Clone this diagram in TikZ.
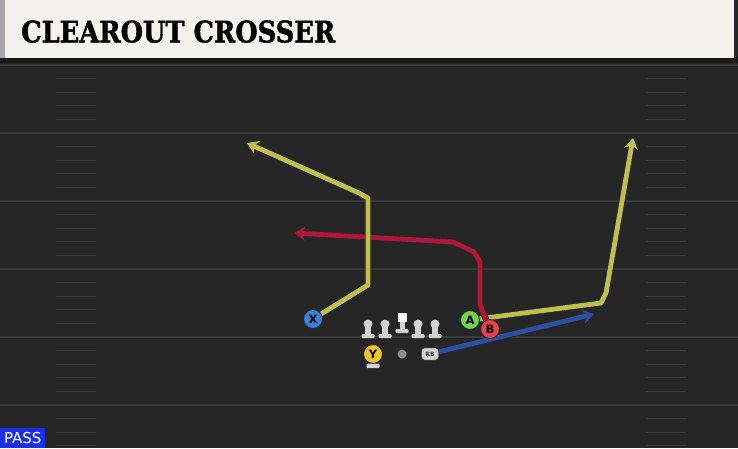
\documentclass[tikz,border=0pt]{standalone}
\usepackage{xcolor}
\usepackage{fontspec}
\setmainfont{DejaVu Sans}
\newfontfamily\titlefont[BoldFeatures={FakeBold=1.5}]{DejaVu Serif}
\usepackage{tikz}
\usetikzlibrary{arrows.meta}

\definecolor{fieldbg}{HTML}{262626}
\definecolor{yardline}{HTML}{3A3A3A}
\definecolor{titlebg}{HTML}{F4F2EC}
\definecolor{routeyel}{HTML}{BFBF4F}
\definecolor{routered}{HTML}{B0163A}
\definecolor{routeblue}{HTML}{2E4F9F}
\definecolor{xblue}{HTML}{3A80D8}
\definecolor{agreen}{HTML}{72D44C}
\definecolor{bred}{HTML}{E8404A}
\definecolor{yyellow}{HTML}{F0C428}
\definecolor{lmgrey}{HTML}{D2D2D2}
\definecolor{passblue}{HTML}{1A30E6}

\tikzset{
    route/.style={draw=#1, line width=4.8pt, line join=round,
        preaction={draw=black!85, line width=6.4pt},
        -{Stealth[length=11pt, width=14pt, inset=3.5pt]}},
    player/.style={circle, fill=#1, draw=black!85, line width=0.9pt,
        inner sep=0pt, minimum size=19pt,
        font=\bfseries\fontsize{11.5}{11.5}\selectfont},
}

\begin{document}
\begin{tikzpicture}[x=1pt, y=-1pt]
    \useasboundingbox (0,0) rectangle (738,448);

    % field and title bar
    \fill[fieldbg] (0,0) rectangle (738,448);
    \fill[black!90] (0,56) rectangle (738,63);
    \fill[titlebg] (0,0) rectangle (734,58);
    \fill[black!35] (0,0) rectangle (5,58);
    \node[anchor=south west, inner sep=0pt] (title) at (21,43)
        {\resizebox{314pt}{22pt}{\titlefont\bfseries CLEAROUT CROSSER}};

    % yard lines and hashes
    \foreach \k in {0,...,5} {
        \draw[yardline, line width=1.5pt] (0,65+68*\k) -- (738,65+68*\k);
        \foreach \j in {1,...,4} {
            \pgfmathsetmacro{\hy}{65+68*\k+13.6*\j}
            \draw[yardline, line width=1.2pt] (56,\hy) -- (96,\hy);
            \draw[yardline, line width=1.2pt] (646,\hy) -- (686,\hy);
        }
    }

    \node[fill=passblue, text=white, anchor=south west, inner sep=0pt,
        minimum width=45pt, minimum height=20pt,
        font=\fontsize{15}{15}\selectfont] (pass) at (0,448) {PASS};

    % players
    \coordinate (xend) at (247,143);
    \coordinate (aend) at (633,138);
    \coordinate (bend) at (294,233);
    \coordinate (rbend) at (594,314);

    \node[player=xblue] (X) at (313,319) {X};
    \node[player=agreen] (A) at (470,320) {A};
    \node[player=bred] (B) at (490,329) {B};

    \fill[lmgrey] (371,358) rectangle (375,366);
    \fill[lmgrey, rounded corners=1pt] (366.5,363.5) rectangle (379.5,368);
    \node[player=yyellow] (Y) at (373,354) {Y};
    \fill[black!45] (402,354) circle (4.5);
    \node[rectangle, rounded corners=3pt, fill=lmgrey, draw=black!80,
        minimum width=17pt, minimum height=12pt, inner sep=0pt,
        font=\bfseries\fontsize{6}{6}\selectfont, text=black!75] (RB) at (430,354) {RB};

    % routes
    \draw[route=routeyel] (A.center) -- (601,303) -- (606,293) -- (aend);
    \draw[route=routered] (B.center) -- (480,305) -- (480,262) -- (474,252) -- (453,242) -- (bend);
    \draw[route=routeyel] (X.center) -- (368,285) -- (368,198) -- (359,193) -- (xend);
    \draw[route=routeblue] (RB) -- (rbend);

    % redraw receivers over their routes
    \node[player=xblue] at (X) {X};
    \node[player=agreen] at (A) {A};
    \node[player=bred] at (B) {B};

    % offensive line
    \foreach \lx in {368,385,418,435} {
        \fill[lmgrey] (\lx,324) circle (4.5);
        \fill[lmgrey] (\lx-2.8,324) rectangle (\lx+2.8,336);
        \fill[lmgrey, rounded corners=1pt] (\lx-6.5,334) rectangle (\lx+6.5,338);
    }
    \fill[white] (397.5,313) rectangle (406.5,322);
    \fill[lmgrey] (399.5,322) rectangle (404.5,331);
    \fill[lmgrey, rounded corners=1pt] (395.5,329) rectangle (408.5,333);
\end{tikzpicture}
\end{document}
